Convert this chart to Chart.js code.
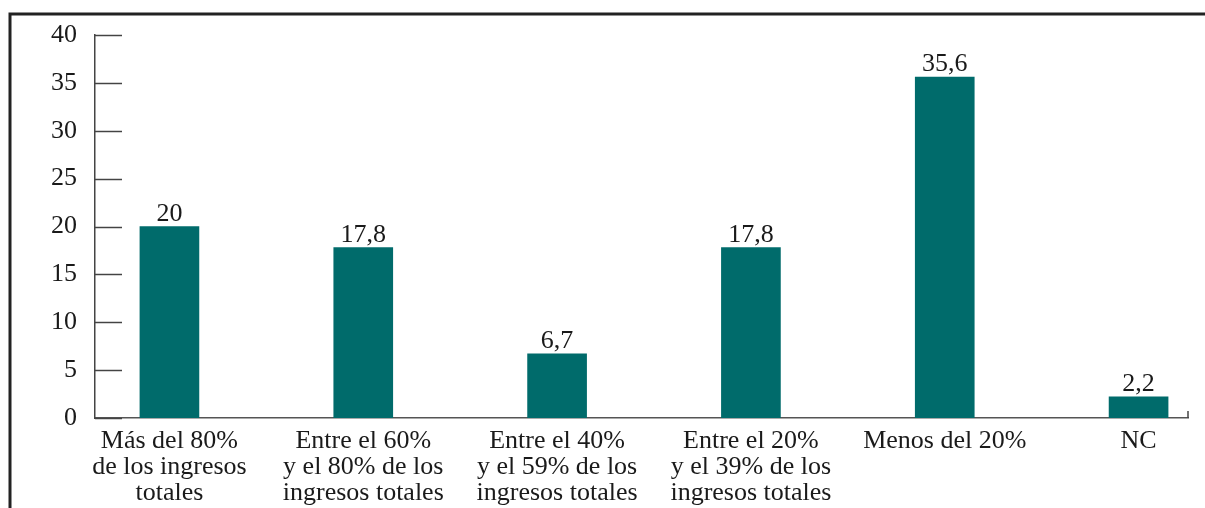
<!DOCTYPE html>
<html>
<head>
<meta charset="utf-8">
<script src="https://cdn.jsdelivr.net/npm/chart.js@4/dist/chart.umd.min.js"></script>
<style>
  html, body { margin: 0; padding: 0; background: #fff; }
  #wrap { width: 1205px; height: 508px; position: relative; }
</style>
</head>
<body>
<div id="wrap"><canvas id="ingresosChart"></canvas></div>
<script>
const categories = [
  ["Más del 80%", "de los ingresos", "totales"],
  ["Entre el 60%", "y el 80% de los", "ingresos totales"],
  ["Entre el 40%", "y el 59% de los", "ingresos totales"],
  ["Entre el 20%", "y el 39% de los", "ingresos totales"],
  ["Menos del 20%"],
  ["NC"]
]
const values = [20, 17.8, 6.7, 17.8, 35.6, 2.2]
const yTicks = [0, 5, 10, 15, 20, 25, 30, 35, 40]

const serif = "\"Liberation Serif\", serif"
const teal = "#006b6b"

// page frame, inward y ticks, end tick on the x axis and value labels
const decorations = {
  id: "decorations",
  beforeDraw(chart) {
    const ctx = chart.ctx
    ctx.save()
    ctx.strokeStyle = "#222"
    ctx.lineWidth = 3
    ctx.beginPath()
    ctx.moveTo(10, 510)
    ctx.lineTo(10, 14)
    ctx.lineTo(1210, 14)
    ctx.stroke()
    ctx.restore()
  },
  afterDraw(chart) {
    const ctx = chart.ctx
    const area = chart.chartArea
    const y = chart.scales.y
    ctx.save()
    ctx.strokeStyle = "#444"
    ctx.lineWidth = 1.5
    yTicks.forEach(t => {
      const py = Math.round(y.getPixelForValue(t)) + 0.5
      ctx.beginPath()
      ctx.moveTo(area.left, py)
      ctx.lineTo(area.left + 27, py)
      ctx.stroke()
    })
    ctx.beginPath()
    ctx.moveTo(area.right, area.bottom)
    ctx.lineTo(area.right, area.bottom - 7)
    ctx.stroke()

    ctx.fillStyle = "#1a1a1a"
    ctx.font = "26px " + serif
    ctx.textAlign = "center"
    ctx.textBaseline = "alphabetic"
    chart.getDatasetMeta(0).data.forEach((bar, i) => {
      ctx.fillText(String(values[i]).replace(".", ","), bar.x, bar.y - 6)
    })
    ctx.restore()
  }
}

new Chart("ingresosChart", {
  type: "bar",
  data: {
    datasets: [{
      data: values.map((v, i) => ({x: i, y: v})),
      backgroundColor: teal,
      barThickness: 59
    }]
  },
  options: {
    responsive: true,
    maintainAspectRatio: false,
    animation: false,
    layout: { padding: { top: 35, right: 17, left: 0, bottom: 0 } },
    plugins: {
      legend: { display: false },
      tooltip: { enabled: false }
    },
    scales: {
      x: {
        type: "linear",
        offset: false,
        min: -0.384,
        max: 5.255,
        afterBuildTicks: scale => {
          scale.ticks = categories.map((c, i) => ({value: i}))
        },
        afterFit: scale => { scale.height = 90 },
        grid: { display: false, drawTicks: false, offset: false },
        border: { color: "#555", width: 1.5 },
        ticks: {
          autoSkip: false,
          maxRotation: 0,
          padding: 10,
          color: "#1a1a1a",
          font: { family: serif, size: 26, lineHeight: 1.0 },
          callback: v => categories[v]
        }
      },
      y: {
        min: 0,
        max: 40,
        afterFit: scale => { scale.width = 95 },
        grid: { display: false, drawTicks: false },
        border: { color: "#444", width: 1.5 },
        ticks: {
          stepSize: 5,
          padding: 18,
          color: "#1a1a1a",
          font: { family: serif, size: 26 }
        }
      }
    }
  },
  plugins: [decorations]
})
</script>
</body>
</html>
